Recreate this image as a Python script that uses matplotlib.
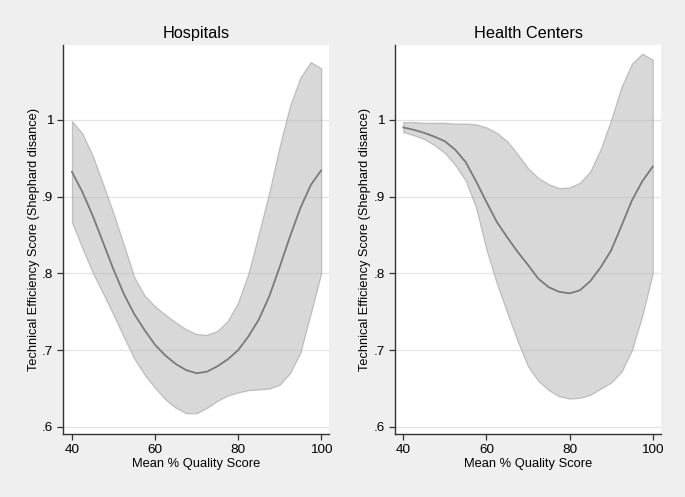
import matplotlib
matplotlib.use("Agg")
import matplotlib.pyplot as plt

plt.rcParams['font.family'] = ['Liberation Sans', 'DejaVu Sans']

# Data
quality = [40, 42.5, 45, 47.5, 50, 52.5, 55, 57.5, 60, 62.5, 65, 67.5, 70,
           72.5, 75, 77.5, 80, 82.5, 85, 87.5, 90, 92.5, 95, 97.5, 100]

hosp_mean = [0.932, 0.906, 0.875, 0.840, 0.805, 0.773, 0.747, 0.726, 0.707, 0.693,
             0.682, 0.674, 0.670, 0.672, 0.679, 0.688, 0.700, 0.718, 0.740, 0.770,
             0.808, 0.848, 0.885, 0.915, 0.934]
hosp_upper = [0.998, 0.982, 0.953, 0.916, 0.878, 0.837, 0.795, 0.771, 0.757, 0.746,
              0.736, 0.727, 0.721, 0.720, 0.725, 0.738, 0.762, 0.800, 0.852, 0.905,
              0.965, 1.018, 1.055, 1.075, 1.067]
hosp_lower = [0.866, 0.833, 0.801, 0.774, 0.746, 0.717, 0.689, 0.668, 0.651, 0.636,
              0.625, 0.618, 0.618, 0.625, 0.634, 0.641, 0.645, 0.648, 0.649, 0.650,
              0.655, 0.670, 0.697, 0.748, 0.800]

hc_mean = [0.990, 0.987, 0.983, 0.978, 0.972, 0.961, 0.945, 0.920, 0.893, 0.867,
           0.847, 0.828, 0.811, 0.793, 0.782, 0.776, 0.774, 0.778, 0.790, 0.808,
           0.830, 0.862, 0.895, 0.920, 0.939]
hc_upper = [0.997, 0.997, 0.996, 0.996, 0.996, 0.995, 0.995, 0.994, 0.990, 0.983,
            0.972, 0.955, 0.937, 0.924, 0.916, 0.911, 0.912, 0.918, 0.933, 0.962,
            1.000, 1.043, 1.073, 1.086, 1.078]
hc_lower = [0.984, 0.980, 0.975, 0.967, 0.957, 0.941, 0.921, 0.886, 0.831, 0.787,
            0.749, 0.712, 0.679, 0.660, 0.648, 0.640, 0.637, 0.638, 0.642, 0.650,
            0.658, 0.672, 0.700, 0.745, 0.800]

titles = ["Hospitals", "Health Centers"]
xticks = [40, 60, 80, 100]
yticks = [0.6, 0.7, 0.8, 0.9, 1.0]
ytick_labels = [".6", ".7", ".8", ".9", "1"]
xlabel = "Mean % Quality Score"
ylabel = "Technical Efficiency Score (Shephard disance)"

bg = "#efefef"
fig = plt.figure(figsize=(6.85, 4.97), dpi=100, facecolor=bg)

panels = [
    (hosp_mean, hosp_lower, hosp_upper, [0.0927, 0.1268, 0.3876, 0.7827], (37.95, 101.9)),
    (hc_mean, hc_lower, hc_upper, [0.5771, 0.1268, 0.3879, 0.7827], (38.08, 102.0)),
]

for (mean, lo, hi, rect, xl), title in zip(panels, titles):
    ax = fig.add_axes(rect)
    ax.set_facecolor("white")
    ax.fill_between(quality, lo, hi, facecolor=(0.72, 0.72, 0.72), alpha=0.55,
                    edgecolor="#999999", linewidth=0.9, zorder=2)
    ax.plot(quality, mean, color="#7a7a7a", linewidth=1.3, zorder=3,
            solid_joinstyle="round")
    ax.set_xlim(*xl)
    ax.set_ylim(0.5909, 1.0974)
    ax.set_xticks(xticks)
    ax.set_yticks(yticks)
    ax.set_yticklabels(ytick_labels)
    ax.yaxis.grid(True, color="#e3e3e3", linewidth=0.9, zorder=1)
    ax.set_axisbelow(True)
    for s in ["top", "right"]:
        ax.spines[s].set_visible(False)
    for s in ["left", "bottom"]:
        ax.spines[s].set_color("#333333")
        ax.spines[s].set_linewidth(1.0)
    ax.tick_params(axis="both", direction="out", length=4, width=0.9,
                   color="#333333", labelsize=9.7, labelcolor="black", pad=3.5)
    ax.set_xlabel(xlabel, fontsize=9.3, labelpad=1.5)
    ax.set_ylabel(ylabel, fontsize=9.2, labelpad=1.5)
    ax.set_title(title, fontsize=11.7, pad=5)

fig.savefig("out.png", dpi=100, facecolor=bg)
